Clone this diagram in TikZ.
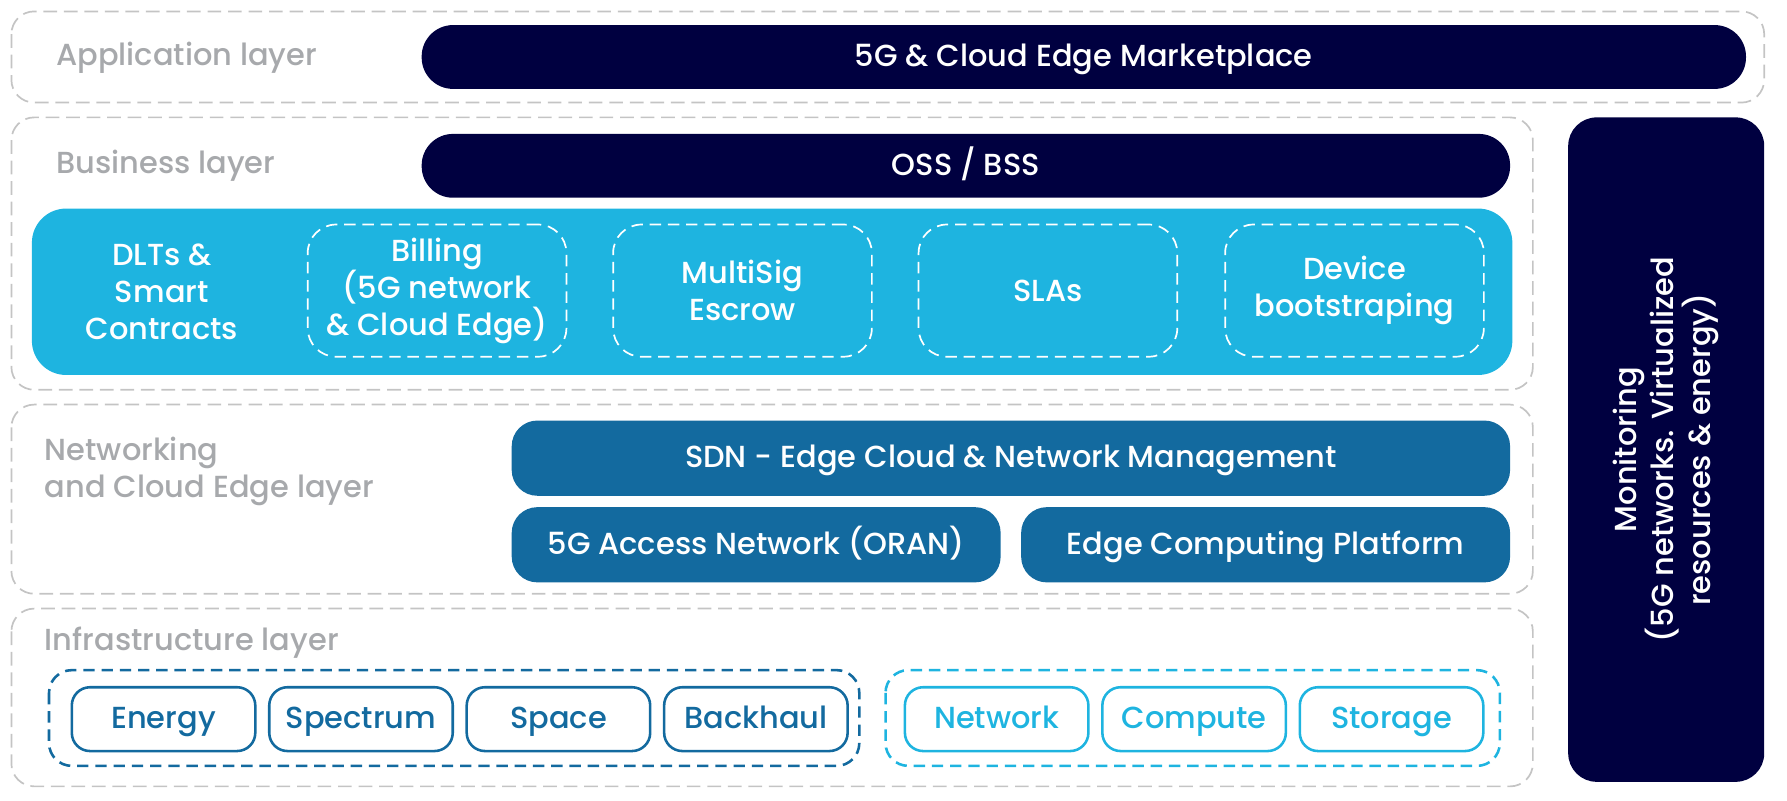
\documentclass[tikz,border=0pt]{standalone}
\usepackage{fontspec}
\setmainfont{Poppins Medium}
\usepackage{tikz}
\usetikzlibrary{positioning}
\definecolor{NavyBlue}{RGB}{0,0,64}
\definecolor{SkyCyan}{RGB}{30,180,224}
\definecolor{SeaBlue}{RGB}{19,106,159}
\definecolor{LabelGray}{RGB}{167,169,172}
\definecolor{FrameGray}{RGB}{196,196,196}
\tikzset{
  layerbox/.style={draw=FrameGray,line width=0.3mm,dash pattern=on 2.4mm off 1.2mm,rounded corners=4mm},
  layerlabel/.style={anchor=west,inner sep=0pt,text=LabelGray,align=left,font=\fontsize{15.2}{18.5}\selectfont},
  navybar/.style={fill=NavyBlue,text=white,rounded corners=5.5mm,minimum height=11.2mm,font=\fontsize{15.2}{18.5}\selectfont},
  cyanpanel/.style={fill=SkyCyan,rounded corners=6mm,minimum width=259.8mm,minimum height=29.2mm},
  dltbox/.style={draw=white,line width=0.3mm,dash pattern=on 2mm off 1.2mm,rounded corners=5mm,minimum width=45.4mm,minimum height=23.2mm,text=white,align=center,font=\fontsize{15.2}{18.5}\selectfont},
  dlttext/.style={text=white,align=center,font=\fontsize{15.2}{18.5}\selectfont},
  netbar/.style={fill=SeaBlue,text=white,rounded corners=4.5mm,minimum height=13.2mm,text height=0.95em,text depth=0pt,font=\fontsize{15.2}{18.5}\selectfont},
  resgroup/.style={line width=0.45mm,dash pattern=on 2mm off 1.2mm,rounded corners=4mm},
  resnode/.style={draw=#1,text=#1,line width=0.45mm,rounded corners=3.2mm,minimum width=32.2mm,minimum height=11.2mm,text height=0.95em,text depth=0pt,font=\fontsize{15.2}{18.5}\selectfont}
}

\begin{document}
\begin{tikzpicture}[x=0.2mm,y=-0.2mm]
\useasboundingbox (0,0) rectangle (1568,702);

\draw[layerbox] (10,10) rectangle (1548,90);
\draw[layerbox] (10,103) rectangle (1345,342);
\draw[layerbox] (10,355) rectangle (1345,521);
\draw[layerbox] (10,534) rectangle (1345,690);

\node[layerlabel] (applbl) at (49,51) {Application layer};
\node[layerlabel] (buslbl) at (49,145) {Business layer};
\node[layerlabel] (netlbl) at (39,414) {Networking\\and Cloud Edge layer};
\node[layerlabel] (infralbl) at (39,564) {Infrastructure layer};

\node[navybar,minimum width=232.4mm,text height=0.95em,text depth=0pt] (market) at (951,50) {5G \& Cloud Edge Marketplace};
\node[navybar,minimum width=191mm,text height=0.95em,text depth=0pt] (oss) at (847.5,145.5) {OSS / BSS};

\node[cyanpanel] (panel) at (677.5,256) {};
\node[dlttext] (dlt) at (142,256) {DLTs \&\\Smart\\Contracts};
\node[dltbox] (billing) at (383.5,255) {Billing\\(5G network\\\& Cloud Edge)};
\node[dltbox] (multisig) at (651.5,255) {MultiSig\\Escrow};
\node[dltbox] (slas) at (919.5,255) {SLAs};
\node[dltbox] (device) at (1188.5,255) {Device\\bootstraping};

\node[netbar,minimum width=175.2mm] (sdn) at (887,402) {SDN - Edge Cloud \& Network Management};
\node[netbar,minimum width=85.8mm] (oran) at (663.5,478) {5G Access Network (ORAN)};
\node[netbar,minimum width=85.8mm] (ecp) at (1110.5,478) {Edge Computing Platform};

\draw[resgroup,draw=SeaBlue] (43,588) rectangle (754,672);
\draw[resgroup,draw=SkyCyan] (777,588) rectangle (1316,672);
\node[resnode=SeaBlue] (energy) at (143.5,631) {Energy};
\node[resnode=SeaBlue,right=2mm of energy] (spectrum) {Spectrum};
\node[resnode=SeaBlue,right=2mm of spectrum] (space) {Space};
\node[resnode=SeaBlue,right=2mm of space] (backhaul) {Backhaul};
\node[resnode=SkyCyan] (network) at (874.5,631) {Network};
\node[resnode=SkyCyan,right=2mm of network] (compute) {Compute};
\node[resnode=SkyCyan,right=2mm of compute] (storage) {Storage};

\node[navybar,rotate=90,rounded corners=5mm,minimum width=116.6mm,minimum height=34.4mm,align=center] (monitor) at (1462,394.5) {Monitoring\\(5G networks. Virtualized\\resources \& energy)};
\end{tikzpicture}
\end{document}
